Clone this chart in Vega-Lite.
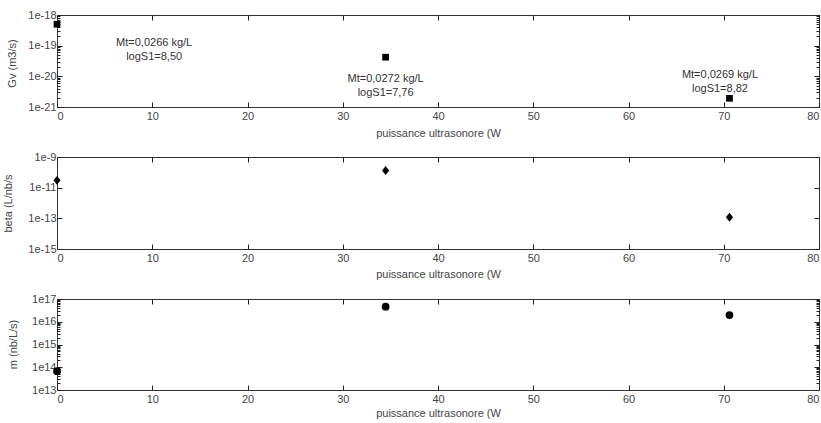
{
  "$schema": "https://vega.github.io/schema/vega-lite/v6.json",
  "padding": {"left": 1, "top": 8, "right": 0, "bottom": 0},
  "spacing": 50,
  "bounds": "flush",
  "datasets": {
    "pts": [
      {"x": 0, "Gv": 5.0e-19, "beta": 3.0e-11, "m": 6.7e13},
      {"x": 34.5, "Gv": 4.2e-20, "beta": 1.3e-10, "m": 4.6e16},
      {"x": 70.6, "Gv": 1.92e-21, "beta": 1.17e-13, "m": 1.96e16}
    ],
    "ann": [
      {"x": 10.2, "y": 1.21e-19, "label": "Mt=0,0266 kg/L\nlogS1=8,50"},
      {"x": 34.5, "y": 8.2e-21, "label": "Mt=0,0272 kg/L\nlogS1=7,76"},
      {"x": 69.6, "y": 1.09e-20, "label": "Mt=0,0269 kg/L\nlogS1=8,82"}
    ]
  },
  "vconcat": [
    {
      "width": 762,
      "height": 92,
      "data": {"name": "pts"},
      "layer": [
        {
          "mark": {"type": "point", "shape": "square", "filled": true, "size": 45, "color": "black", "opacity": 1},
          "encoding": {
            "x": {"field": "x", "type": "quantitative", "scale": {"domain": [0, 80], "nice": false, "zero": false},
              "axis": {"orient": "bottom", "offset": -5, "values": [0,10,20,30,40,50,60,70,80], "tickSize": 5, "labelPadding": 3, "title": "puissance ultrasonore (W", "titleY": 31, "titleBaseline": "middle"}},
            "y": {"field": "Gv", "type": "quantitative", "scale": {"type": "log", "domain": [1e-21, 1e-18], "nice": false},
              "axis": {"orient": "left", "offset": -5, "values": [1e-21,1e-20,1e-19,1e-18], "tickSize": 5, "labelPadding": 1, "labelExpr": "replace(format(datum.value, '.0e'), '+', '')", "title": "Gv (m3/s)", "titleX": -50, "titleY": 48, "titleAngle": -90, "titleBaseline": "middle", "titleAlign": "center"}}
          }
        },
        {
          "mark": {"type": "point", "opacity": 0},
          "encoding": {
            "x": {"field": "x", "type": "quantitative", "axis": {"orient": "top", "offset": -5, "values": [0,10,20,30,40,50,60,70,80], "tickSize": 5, "labels": false, "title": null}},
            "y": {"field": "Gv", "type": "quantitative", "axis": {"orient": "right", "offset": -5, "values": [1e-21,1e-20,1e-19,1e-18], "tickSize": 5, "labels": false, "title": null}}
          }
        },
        {
          "mark": {"type": "point", "opacity": 0},
          "encoding": {
            "x": {"field": "x", "type": "quantitative", "axis": null},
            "y": {"field": "Gv", "type": "quantitative", "axis": {"orient": "left", "offset": -3, "values": [2e-21,3e-21,4e-21,5e-21,6e-21,7e-21,8e-21,9e-21,2e-20,3e-20,4e-20,5e-20,6e-20,7e-20,8e-20,9e-20,2e-19,3e-19,4e-19,5e-19,6e-19,7e-19,8e-19,9e-19], "tickSize": 3, "labels": false, "title": null}}
          }
        },
        {
          "mark": {"type": "point", "opacity": 0},
          "encoding": {
            "x": {"field": "x", "type": "quantitative", "axis": null},
            "y": {"field": "Gv", "type": "quantitative", "axis": {"orient": "right", "offset": -3, "values": [2e-21,3e-21,4e-21,5e-21,6e-21,7e-21,8e-21,9e-21,2e-20,3e-20,4e-20,5e-20,6e-20,7e-20,8e-20,9e-20,2e-19,3e-19,4e-19,5e-19,6e-19,7e-19,8e-19,9e-19], "tickSize": 3, "labels": false, "title": null}}
          }
        },
        {
          "data": {"name": "ann"},
          "mark": {"type": "text", "align": "center", "baseline": "middle", "lineBreak": "\n", "lineHeight": 14, "font": "Liberation Sans", "fontSize": 11, "color": "#333"},
          "encoding": {
            "x": {"field": "x", "type": "quantitative", "axis": null},
            "y": {"field": "y", "type": "quantitative", "axis": null},
            "text": {"field": "label"}
          }
        }
      ],
      "resolve": {"axis": {"x": "independent", "y": "independent"}}
    },
    {
      "width": 762,
      "height": 92,
      "data": {"name": "pts"},
      "layer": [
        {
          "mark": {"type": "point", "shape": "M-0.8,0L0,-1L0.8,0L0,1Z", "filled": true, "size": 80, "color": "black", "opacity": 1},
          "encoding": {
            "x": {"field": "x", "type": "quantitative", "scale": {"domain": [0, 80], "nice": false, "zero": false},
              "axis": {"orient": "bottom", "offset": -5, "values": [0,10,20,30,40,50,60,70,80], "tickSize": 5, "labelPadding": 3, "title": "puissance ultrasonore (W", "titleY": 30, "titleBaseline": "middle"}},
            "y": {"field": "beta", "type": "quantitative", "scale": {"type": "log", "domain": [1e-15, 1e-9], "nice": false},
              "axis": {"orient": "left", "offset": -5, "values": [1e-15,1e-13,1e-11,1e-9], "tickSize": 5, "labelPadding": 1, "labelExpr": "replace(format(datum.value, '.0e'), '+', '')", "title": "beta (L/nb/s", "titleX": -54, "titleY": 46, "titleAngle": -90, "titleBaseline": "middle", "titleAlign": "center"}}
          }
        },
        {
          "mark": {"type": "point", "opacity": 0},
          "encoding": {
            "x": {"field": "x", "type": "quantitative", "axis": {"orient": "top", "offset": -5, "values": [0,10,20,30,40,50,60,70,80], "tickSize": 5, "labels": false, "title": null}},
            "y": {"field": "beta", "type": "quantitative", "axis": {"orient": "right", "offset": -5, "values": [1e-15,1e-13,1e-11,1e-9], "tickSize": 5, "labels": false, "title": null}}
          }
        }
      ],
      "resolve": {"axis": {"x": "independent", "y": "independent"}}
    },
    {
      "width": 762,
      "height": 91,
      "data": {"name": "pts"},
      "layer": [
        {
          "mark": {"type": "point", "shape": "circle", "filled": true, "size": 60, "color": "black", "opacity": 1},
          "encoding": {
            "x": {"field": "x", "type": "quantitative", "scale": {"domain": [0, 80], "nice": false, "zero": false},
              "axis": {"orient": "bottom", "offset": -5, "values": [0,10,20,30,40,50,60,70,80], "tickSize": 5, "labelPadding": 3, "title": "puissance ultrasonore (W", "titleY": 28, "titleBaseline": "middle"}},
            "y": {"field": "m", "type": "quantitative", "scale": {"type": "log", "domain": [1e13, 1e17], "nice": false},
              "axis": {"orient": "left", "offset": -5, "values": [1e13,1e14,1e15,1e16,1e17], "tickSize": 5, "labelPadding": 1, "labelExpr": "replace(format(datum.value, '.0e'), '+', '')", "title": "m (nb/L/s)", "titleX": -49, "titleY": 45, "titleAngle": -90, "titleBaseline": "middle", "titleAlign": "center"}}
          }
        },
        {
          "mark": {"type": "point", "opacity": 0},
          "encoding": {
            "x": {"field": "x", "type": "quantitative", "axis": {"orient": "top", "offset": -5, "values": [0,10,20,30,40,50,60,70,80], "tickSize": 5, "labels": false, "title": null}},
            "y": {"field": "m", "type": "quantitative", "axis": {"orient": "right", "offset": -5, "values": [1e13,1e14,1e15,1e16,1e17], "tickSize": 5, "labels": false, "title": null}}
          }
        },
        {
          "mark": {"type": "point", "opacity": 0},
          "encoding": {
            "x": {"field": "x", "type": "quantitative", "axis": null},
            "y": {"field": "m", "type": "quantitative", "axis": {"orient": "left", "offset": -3, "values": [2e13,3e13,4e13,5e13,6e13,7e13,8e13,9e13,2e14,3e14,4e14,5e14,6e14,7e14,8e14,9e14,2e15,3e15,4e15,5e15,6e15,7e15,8e15,9e15,2e16,3e16,4e16,5e16,6e16,7e16,8e16,9e16], "tickSize": 3, "labels": false, "title": null}}
          }
        },
        {
          "mark": {"type": "point", "opacity": 0},
          "encoding": {
            "x": {"field": "x", "type": "quantitative", "axis": null},
            "y": {"field": "m", "type": "quantitative", "axis": {"orient": "right", "offset": -3, "values": [2e13,3e13,4e13,5e13,6e13,7e13,8e13,9e13,2e14,3e14,4e14,5e14,6e14,7e14,8e14,9e14,2e15,3e15,4e15,5e15,6e15,7e15,8e15,9e15,2e16,3e16,4e16,5e16,6e16,7e16,8e16,9e16], "tickSize": 3, "labels": false, "title": null}}
          }
        }
      ],
      "resolve": {"axis": {"x": "independent", "y": "independent"}}
    }
  ],
  "config": {
    "font": "Liberation Sans",
    "view": {"stroke": "#333", "strokeWidth": 1},
    "axis": {
      "labelFont": "Liberation Sans",
      "titleFont": "Liberation Sans",
      "labelFontSize": 11,
      "titleFontSize": 11,
      "titleFontWeight": "normal",
      "labelColor": "#444",
      "titleColor": "#444",
      "tickColor": "#222",
      "tickWidth": 1,
      "ticks": true,
      "grid": false,
      "domain": false
    }
  }
}
